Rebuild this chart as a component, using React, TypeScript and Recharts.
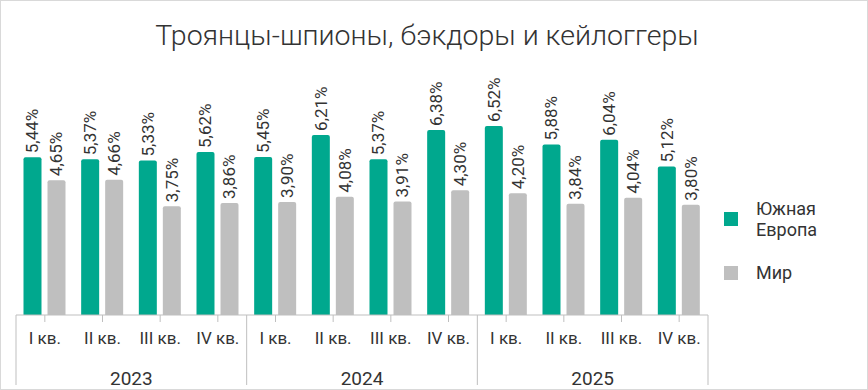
import { BarChart, Bar, XAxis, YAxis, LabelList } from 'recharts';

const quarters = ['I кв.', 'II кв.', 'III кв.', 'IV кв.', 'I кв.', 'II кв.', 'III кв.', 'IV кв.', 'I кв.', 'II кв.', 'III кв.', 'IV кв.'];
const years = ['2023', '2024', '2025'];
const southEurope = [5.44, 5.37, 5.33, 5.62, 5.45, 6.21, 5.37, 6.38, 6.52, 5.88, 6.04, 5.12];
const world = [4.65, 4.66, 3.75, 3.86, 3.9, 4.08, 3.91, 4.3, 4.2, 3.84, 4.04, 3.8];

const data = quarters.map((q, i) => ({
  q,
  year: years[Math.floor(i / 4)],
  se: southEurope[i],
  w: world[i],
}));

const GREEN = '#00a88e';
const GRAY = '#bfbfbf';
const TEXT = '#333333';
const FONT = 'Roboto, sans-serif';

const W = 868;
const H = 390;
const LEFT = 16;
const RIGHT = 160;
const CAT_W = (W - LEFT - RIGHT) / quarters.length;

const fmt = (v: number) => v.toFixed(2).replace('.', ',') + '%';

const renderRotLabel = (props: any) => {
  const vb = props.viewBox && props.viewBox.width != null ? props.viewBox : props;
  const cx = Number(vb.x) + Number(vb.width) / 2;
  const ty = Number(vb.y) - 4;
  return (
    <text
      key={`${cx}-${ty}`}
      x={0}
      y={0}
      transform={`translate(${cx} ${ty}) rotate(-90)`}
      textAnchor="start"
      dominantBaseline="central"
      fontSize={17}
      fontFamily={FONT}
      fill={TEXT}
    >
      {fmt(Number(props.value))}
    </text>
  );
};

const QuarterTick = (props: any) => {
  const { x, y, payload, index } = props;
  const i = payload.index ?? index;
  const top = y - 8;
  return (
    <g>
      <line x1={x} x2={x} y1={top} y2={top + 7} stroke={GRAY} />
      <text x={x} y={top + 23} textAnchor="middle" dominantBaseline="central" fontSize={17} fontFamily={FONT} fill={TEXT}>
        {payload.value}
      </text>
      {i % 4 === 0 && (
        <>
          <line x1={x - CAT_W / 2} x2={x - CAT_W / 2} y1={top} y2={top + 70} stroke={GRAY} />
          <text
            x={x + CAT_W * 1.5}
            y={top + 63}
            textAnchor="middle"
            dominantBaseline="central"
            fontSize={19}
            fontFamily={FONT}
            fill={TEXT}
          >
            {data[i].year}
          </text>
        </>
      )}
      {i === quarters.length - 1 && (
        <line x1={x + CAT_W / 2} x2={x + CAT_W / 2} y1={top} y2={top + 70} stroke={GRAY} />
      )}
    </g>
  );
};

const LegendBox = () => (
  <div
    style={{
      position: 'absolute',
      left: 723,
      top: 197,
      fontFamily: FONT,
      fontSize: 18,
      color: TEXT,
      lineHeight: '21px',
    }}
  >
    <div style={{ display: 'flex', alignItems: 'center' }}>
      <span style={{ width: 14, height: 14, background: GREEN, display: 'inline-block', marginRight: 18 }} />
      <span>
        Южная
        <br />
        Европа
      </span>
    </div>
    <div style={{ display: 'flex', alignItems: 'center', marginTop: 22 }}>
      <span style={{ width: 14, height: 14, background: GRAY, display: 'inline-block', marginRight: 18 }} />
      <span>Мир</span>
    </div>
  </div>
);

export default function App() {
  return (
    <div
      style={{
        position: 'absolute',
        left: 0,
        top: 0,
        width: W,
        height: H,
        background: '#fff',
        boxSizing: 'border-box',
        border: '1px solid #d9d9d9',
      }}
    >
      <div
        style={{
          position: 'absolute',
          left: 0,
          top: 18,
          width: '100%',
          textAlign: 'center',
          fontFamily: FONT,
          fontWeight: 300,
          fontSize: 28.5,
          color: TEXT,
          paddingRight: 14,
          boxSizing: 'border-box',
        }}
      >
        Троянцы-шпионы, бэкдоры и кейлоггеры
      </div>
      <div style={{ position: 'absolute', left: -1, top: -1 }}>
        <BarChart
          width={W}
          height={H}
          data={data}
          margin={{ top: 83, right: RIGHT, left: LEFT, bottom: 5 }}
          barCategoryGap="13%"
          barGap={6}
        >
          <XAxis
            dataKey="q"
            height={70}
            interval={0}
            tickLine={false}
            axisLine={{ stroke: GRAY }}
            tick={<QuarterTick />}
          />
          <YAxis hide domain={[0, 8]} />
          <Bar dataKey="se" fill={GREEN} radius={[2, 2, 0, 0]} isAnimationActive={false}>
            <LabelList dataKey="se" content={renderRotLabel} />
          </Bar>
          <Bar dataKey="w" fill={GRAY} radius={[2, 2, 0, 0]} isAnimationActive={false}>
            <LabelList dataKey="w" content={renderRotLabel} />
          </Bar>
        </BarChart>
      </div>
      <LegendBox />
    </div>
  );
}
